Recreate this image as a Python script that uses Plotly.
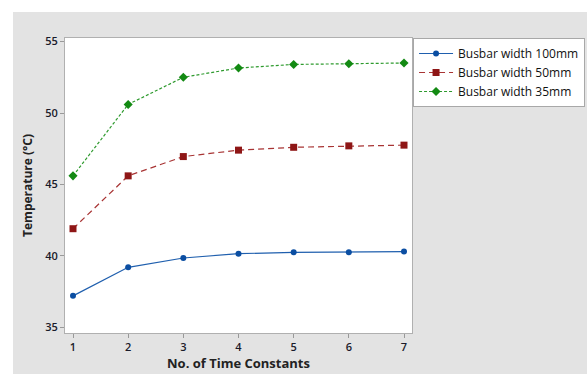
import plotly.graph_objects as go

x_vals = [1, 2, 3, 4, 5, 6, 7]
w100 = [37.2, 39.2, 39.85, 40.15, 40.25, 40.25, 40.3]
w50 = [41.9, 45.6, 46.95, 47.4, 47.6, 47.7, 47.75]
w35 = [45.6, 50.6, 52.5, 53.15, 53.4, 53.45, 53.5]
names = ["Busbar width 100mm", "Busbar width 50mm", "Busbar width 35mm"]

fig = go.Figure()
fig.add_trace(go.Scatter(x=x_vals, y=w100, name=names[0], mode="lines+markers",
                         line=dict(color="#1F5FAE", width=1.2, dash="solid"),
                         marker=dict(symbol="circle", size=6, color="#0B4EA2")))
fig.add_trace(go.Scatter(x=x_vals, y=w50, name=names[1], mode="lines+markers",
                         line=dict(color="#A83434", width=1.2, dash="6px,4px"),
                         marker=dict(symbol="square", size=7, color="#8E1616")))
fig.add_trace(go.Scatter(x=x_vals, y=w35, name=names[2], mode="lines+markers",
                         line=dict(color="#2E9A2E", width=1.2, dash="3px,2px"),
                         marker=dict(symbol="diamond", size=7, color="#138A13")))

L, R, T, B = 65, 175, 38, 41
pw, ph = 587 - L - R, 374 - T - B

fig.add_shape(type="rect", xref="paper", yref="paper",
              x0=(13 - L) / pw, x1=(600 - L) / pw,
              y0=(333 - 380) / ph, y1=(333 - 12) / ph,
              fillcolor="#E3E3E3", line=dict(width=0), layer="below")
fig.add_shape(type="rect", xref="paper", yref="paper",
              x0=0, x1=1, y0=0, y1=1,
              fillcolor="white", line=dict(width=0), layer="below")

fig.update_layout(
    width=587, height=374,
    margin=dict(l=L, r=R, t=T, b=B, autoexpand=False),
    paper_bgcolor="white", plot_bgcolor="rgba(0,0,0,0)",
    font=dict(family="Open Sans", color="#222222", size=11),
    showlegend=True,
    legend=dict(x=1.003, y=1.0, xanchor="left", yanchor="top",
                bgcolor="white", bordercolor="#A8A8A8", borderwidth=1,
                font=dict(family="Open Sans", size=12, color="#111111"),
                tracegroupgap=0, itemwidth=34),
    xaxis=dict(range=[0.855, 7.145], tickvals=x_vals, ticks="outside", ticklen=4,
               tickcolor="#999999", showgrid=False, zeroline=False,
               showline=True, linecolor="#B0B0B0", linewidth=1, mirror=True,
               tickfont=dict(size=11, color="#1a1a2a", weight=600),
               title=dict(text="<b>No. of Time Constants</b>", font=dict(size=13, color="#222222"), standoff=2)),
    yaxis=dict(range=[34.6, 55.25], tickvals=[35, 40, 45, 50, 55], ticks="outside", ticklen=4,
               tickcolor="#999999", showgrid=False, zeroline=False,
               showline=True, linecolor="#B0B0B0", linewidth=1, mirror=True,
               tickfont=dict(size=11, color="#1a1a2a", weight=600),
               title=dict(text="<b>Temperature (°C)</b>", font=dict(size=12, color="#222222"), standoff=10)),
)

fig.write_html("out.html", config={"displayModeBar": False},
               post_script="document.body.style.margin='0px'; document.body.style.overflow='hidden';")
